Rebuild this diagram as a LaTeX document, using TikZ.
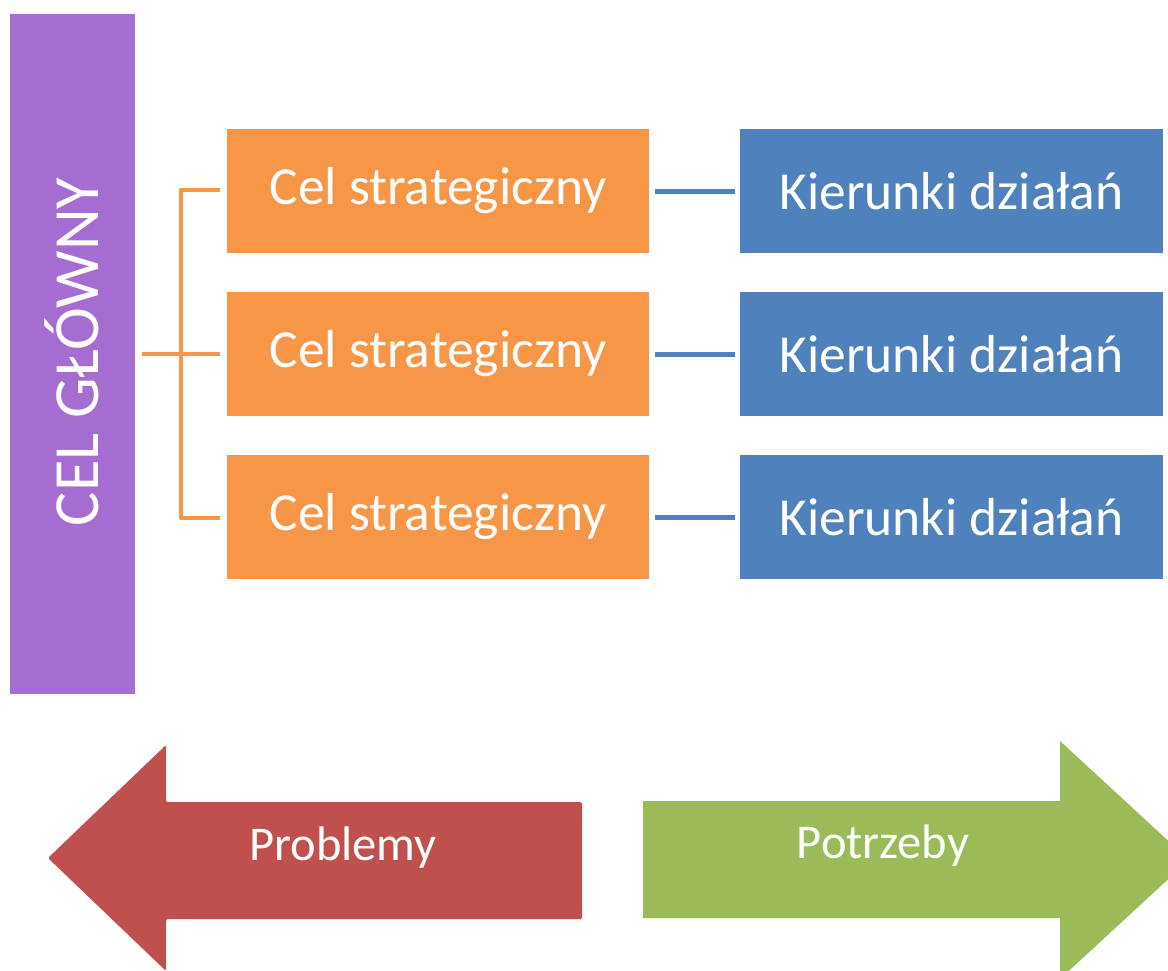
\documentclass[tikz,border=0pt]{standalone}
\usepackage{fontspec}
\setmainfont{Carlito}
\definecolor{cpurple}{HTML}{A56CD2}
\definecolor{corange}{HTML}{F79646}
\definecolor{cblue}{HTML}{4F81BD}
\definecolor{cred}{HTML}{C0504D}
\definecolor{cgreen}{HTML}{9BBB59}
\begin{document}
\begin{tikzpicture}[x=1pt,y=-1pt,
  orbox/.style={fill=corange, draw=none, minimum width=422pt, minimum height=124pt, inner sep=0pt, text=white, font=\fontsize{53.5}{58}\selectfont},
  blbox/.style={fill=cblue, draw=none, minimum width=423pt, minimum height=124pt, inner sep=0pt, text=white, font=\fontsize{53.5}{58}\selectfont},
  orline/.style={draw=corange, line width=4.5pt},
  blline/.style={draw=cblue, line width=5pt},
  arrtext/.style={text=white, font=\fontsize{48.5}{54}\selectfont}]
\useasboundingbox (0,0) rectangle (1168,970);
\clip (0,0) rectangle (1168,970);
% main goal
\node[fill=cpurple, minimum width=125pt, minimum height=680pt, inner sep=0pt] (main) at (72.5,354) {};
\node[rotate=90, text=white, font=\fontsize{64.5}{70}\selectfont] (maintext) at (72,352) {CEL GŁÓWNY};
% strategic goals
\node[orbox] (c1) at (438,191) {Cel strategiczny};
\node[orbox] (c2) at (438,354) {Cel strategiczny};
\node[orbox] (c3) at (438,517) {Cel strategiczny};
% directions
\node[blbox] (k1) at (951.5,191) {Kierunki działań};
\node[blbox] (k2) at (951.5,354) {Kierunki działań};
\node[blbox] (k3) at (951.5,517) {Kierunki działań};
% bracket
\coordinate (bt) at (181,190);
\coordinate (bb) at (181,518);
\coordinate (bm) at (181,354);
\coordinate (mstart) at (142,354);
\draw[orline, line join=round] ([xshift=-7pt]c1.west |- bt) -- (bt) -- (bb) -- ([xshift=-7pt]c3.west |- bb);
\draw[orline] (mstart) -- ([xshift=-7pt]c2.west);
% blue connectors
\draw[blline] ([xshift=6pt]c1.east) -- ([xshift=-5pt]k1.west);
\draw[blline] ([xshift=6pt]c2.east) -- ([xshift=-5pt]k2.west);
\draw[blline] ([xshift=6pt]c3.east) -- ([xshift=-5pt]k3.west);
% arrows
\fill[cred, rounded corners=1.5pt] (48,858) -- (166,745) -- (166,802) -- (582,802) -- (582,919) -- (166,919) -- (166,971) -- cycle;
\node[arrtext] (prob) at (343,848) {Problemy};
\fill[cgreen] (643,801) -- (1060,801) -- (1060,741) -- (1189,860) -- (1060,979) -- (1060,918) -- (643,918) -- cycle;
\node[arrtext] (potr) at (883,846) {Potrzeby};
\end{tikzpicture}
\end{document}
